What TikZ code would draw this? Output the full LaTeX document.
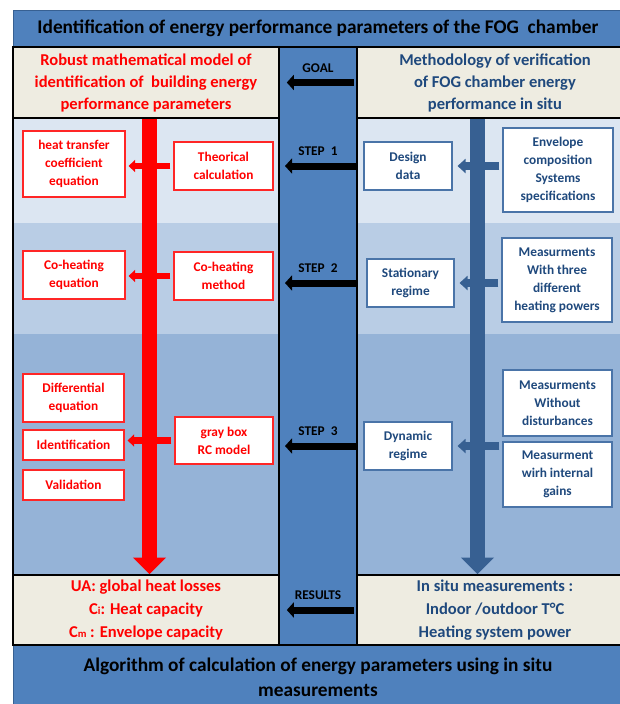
\documentclass[tikz,border=0pt]{standalone}
\usepackage{fontspec}
\setmainfont{Carlito}
\usetikzlibrary{arrows.meta,calc}

\definecolor{bannerblue}{HTML}{4F81BD}
\definecolor{beige}{HTML}{EEECE1}
\definecolor{bandone}{HTML}{DCE6F2}
\definecolor{bandtwo}{HTML}{B9CDE5}
\definecolor{bandthree}{HTML}{95B3D7}
\definecolor{darkblue}{HTML}{376092}
\definecolor{textblue}{HTML}{1F497D}
\definecolor{boxblue}{HTML}{4A74A8}

\tikzset{
  rowbox/.style={draw=black,line width=1.2pt,fill=beige,align=center,inner sep=0pt,
    font=\bfseries\fontsize{12.4}{16.5}\selectfont},
  redbox/.style={draw=red!85!white,line width=0.8pt,fill=white,align=center,inner sep=0pt,
    text=red,font=\bfseries\fontsize{10}{13.5}\selectfont},
  bluebox/.style={redbox,draw=boxblue,text=textblue},
  midlabel/.style={midway,above=5pt,inner sep=0pt,font=\bfseries\fontsize{10}{12}\selectfont},
  steparrow/.style={line width=5.25pt,-{Triangle[width=11.25pt,length=5.25pt]},
    shorten <=1.5pt,shorten >=5.25pt},
  redlink/.style={red,line width=5pt,-{Triangle[width=9pt,length=5pt]},
    shorten <=2.25pt,shorten >=2.25pt},
  bluelink/.style={darkblue,line width=5.5pt,-{Triangle[width=10.5pt,length=6pt]},
    shorten <=2.25pt,shorten >=3.75pt},
  bigarrow/.style={line width=11.25pt,-{Triangle[width=24pt,length=12.5pt]}}
}

\begin{document}
\begin{tikzpicture}[x=0.75pt,y=-0.75pt]
  \clip (0,0) rectangle (620,704);
  % banners
  \filldraw[fill=bannerblue,draw=darkblue,line width=0.5pt] (13,10) rectangle (633,47);
  \filldraw[fill=bannerblue,draw=darkblue,line width=0.5pt] (13,645) rectangle (633,704);
  \node[inner sep=0pt,font=\bfseries\fontsize{14.5}{17}\selectfont] (title) at (318,28.5)
    {Identification of energy performance parameters of the FOG\ \ chamber};
  \node[inner sep=0pt,align=center,font=\bfseries\fontsize{14.5}{18.75}\selectfont] (algo) at (318,677)
    {Algorithm of calculation of energy parameters using in situ\\measurements};
  % bands
  \fill[bandone]   (13,118) rectangle (279,223);
  \fill[bandtwo]   (13,223) rectangle (279,334);
  \fill[bandthree] (13,334) rectangle (279,575);
  \fill[bandone]   (357,118) rectangle (633,223);
  \fill[bandtwo]   (357,223) rectangle (633,334);
  \fill[bandthree] (357,334) rectangle (633,575);
  % rows and middle column
  \node[rowbox,text=red,minimum width=199.5pt,minimum height=53.25pt] (lhead) at (146,82.5)
    {Robust mathematical model of\\identification of\ \ building energy\\performance parameters};
  \node[rowbox,text=textblue,minimum width=207pt,minimum height=53.25pt] (rhead) at (495,82.5)
    {Methodology of verification\\of FOG chamber energy\\performance in situ};
  \node[rowbox,text=red,minimum width=199.5pt,minimum height=52.5pt,
        font=\bfseries\fontsize{12.4}{17}\selectfont] (lres) at (146,610)
    {UA: global heat losses\\C{\fontsize{8}{8}\selectfont i}: Heat capacity\\C{\fontsize{8}{8}\selectfont m} : Envelope capacity};
  \node[rowbox,text=textblue,minimum width=207pt,minimum height=52.5pt,
        font=\bfseries\fontsize{12.4}{17}\selectfont] (rres) at (495,610)
    {In situ measurements :\\Indoor /outdoor T°C\\Heating system power};
  \draw[line width=1.5pt] (13,47) rectangle (279,645);
  \draw[line width=1.5pt] (357,47) rectangle (633,645);
  \node[draw=black,line width=1.5pt,fill=bannerblue,minimum width=58.5pt,minimum height=448.5pt] (mid) at (318,346) {};
  % left boxes
  \node[redbox,minimum width=76.5pt,minimum height=49.5pt] (heat) at (74,164) {heat transfer\\coefficient\\equation};
  \node[redbox,minimum width=74.25pt,minimum height=36pt] (theo) at (223.5,166) {Theorical\\calculation};
  \node[redbox,minimum width=76.5pt,minimum height=36pt] (coheq) at (74,275) {Co-heating\\equation};
  \node[redbox,minimum width=74.25pt,minimum height=36pt] (cohm) at (223.5,276) {Co-heating\\method};
  \node[redbox,minimum width=75.75pt,minimum height=36pt] (diff) at (73.5,398) {Differential\\equation};
  \node[redbox,minimum width=75.75pt,minimum height=22.5pt] (ident) at (73.5,445) {Identification};
  \node[redbox,minimum width=75.75pt,minimum height=22.5pt] (valid) at (73.5,485) {Validation};
  \node[redbox,minimum width=73.5pt,minimum height=35.25pt] (grayb) at (224,440.5) {gray box\\RC model};
  % right boxes
  \node[bluebox,minimum width=66pt,minimum height=36pt] (design) at (408,166) {Design\\data};
  \node[bluebox,minimum width=82.5pt,minimum height=63pt] (env) at (558,170) {Envelope\\composition\\Systems\\specifications};
  \node[bluebox,minimum width=65.25pt,minimum height=36pt] (stat) at (410.5,283) {Stationary\\regime};
  \node[bluebox,minimum width=82.5pt,minimum height=63pt] (meas) at (557,280) {Measurments\\With three\\different\\heating powers};
  \node[bluebox,minimum width=66pt,minimum height=36pt] (dyn) at (408,446) {Dynamic\\regime};
  \node[bluebox,minimum width=81.75pt,minimum height=49.5pt] (nodist) at (557.5,403) {Measurments\\Without\\disturbances};
  \node[bluebox,minimum width=81.75pt,minimum height=48.75pt] (gains) at (557.5,474.5) {Measurment\\wirh internal\\gains};
  % vertical arrows
  \coordinate (redx) at ($(heat.east)!0.5!(theo.west)$);
  \coordinate (bluex) at ($(design.east)!0.5!(env.west)$);
  \draw[bigarrow,red] (redx |- lhead.south) -- (redx |- lres.north);
  \draw[bigarrow,darkblue] (bluex |- rhead.south) -- (bluex |- rres.north);
  % side arrows
  \draw[redlink] (theo.west) -- (theo.west -| heat.east);
  \draw[redlink] (cohm.west) -- (cohm.west -| coheq.east);
  \draw[redlink] (grayb.west) -- (grayb.west -| ident.east);
  \draw[bluelink] (env.west |- design.east) -- (design.east);
  \draw[bluelink] (meas.west |- stat.east) -- (stat.east);
  \draw[bluelink] (nodist.west |- dyn.east) -- (dyn.east);
  % steps
  \draw[steparrow] (rhead.west) -- (lhead.east) node[midlabel] {GOAL};
  \draw[steparrow] (design.west -| mid.east) -- (design.west -| mid.west) node[midlabel] {STEP\ \ 1};
  \draw[steparrow] (stat.west -| mid.east) -- (stat.west -| mid.west) node[midlabel] {STEP\ \ 2};
  \draw[steparrow] (dyn.west -| mid.east) -- (dyn.west -| mid.west) node[midlabel] {STEP\ \ 3};
  \draw[steparrow] (rres.west) -- (lres.east) node[midlabel] {RESULTS};
\end{tikzpicture}
\end{document}
